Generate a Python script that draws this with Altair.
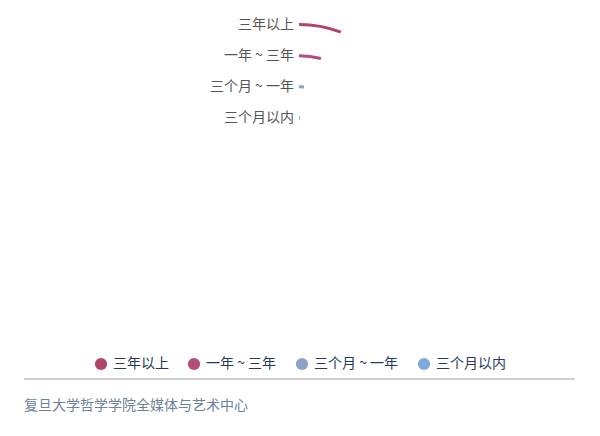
import altair as alt
import pandas as pd

categories = ["三年以上", "一年 ~ 三年", "三个月 ~ 一年", "三个月以内"]
values = [5.7, 4.0, 1.4, 0.7]
colors = ["#b0446b", "#b24e79", "#8ea2c6", "#7faadc"]
footer = "复旦大学哲学学院全媒体与艺术中心"

df = pd.DataFrame({"cat": categories, "val": values, "idx": list(range(len(categories)))})

FONT = "Noto Sans CJK SC"
cx, cy = 291, 136

base = alt.Chart(df)

arcs = base.mark_arc(radius2Offset=-3, stroke=None).encode(
    x=alt.value(cx),
    y=alt.value(cy),
    theta=alt.Theta("val:Q", scale=alt.Scale(domain=[0, 100], range=[0, 6.283185307])),
    theta2=alt.Theta2(datum=0),
    radius=alt.Radius("idx:Q", scale=alt.Scale(type="linear", domain=[0, 3], range=[121, 27.5], zero=False)),
    radius2=alt.Radius2("idx:Q"),
    color=alt.Color(
        "cat:N",
        scale=alt.Scale(domain=categories, range=colors),
        legend=alt.Legend(
            title=None,
            orient="none",
            direction="horizontal",
            legendX=86,
            legendY=349,
            symbolType="circle",
            symbolSize=150,
            symbolStrokeWidth=0,
            labelFont=FONT,
            labelFontSize=14,
            labelColor="#243b53",
            labelOffset=5,
            columnPadding=18,
        ),
    ),
)

labels = base.mark_text(align="right", baseline="middle", dx=-5, dy=1.5, font=FONT, fontSize=14, color="#555555").encode(
    x=alt.value(cx),
    y=alt.value(cy),
    theta=alt.Theta(datum=0),
    radius=alt.Radius("idx:Q"),
    text="cat:N",
)

rule = base.mark_rule(color="#cccccc", strokeWidth=1).encode(
    x=alt.value(16), x2=alt.value(567), y=alt.value(371)
)

foot = alt.Chart(pd.DataFrame({"t": [footer]})).mark_text(
    align="left", baseline="middle", font=FONT, fontSize=14, color="#6e8299"
).encode(x=alt.value(16), y=alt.value(398), text="t:N")

chart = alt.layer(arcs, labels, rule, foot).properties(
    width=584, height=420, padding=0, autosize=alt.AutoSizeParams(type="none")
).configure_view(stroke=None).resolve_scale(theta="shared")

chart.save("out.html", embed_options={"renderer": "svg", "actions": False})
